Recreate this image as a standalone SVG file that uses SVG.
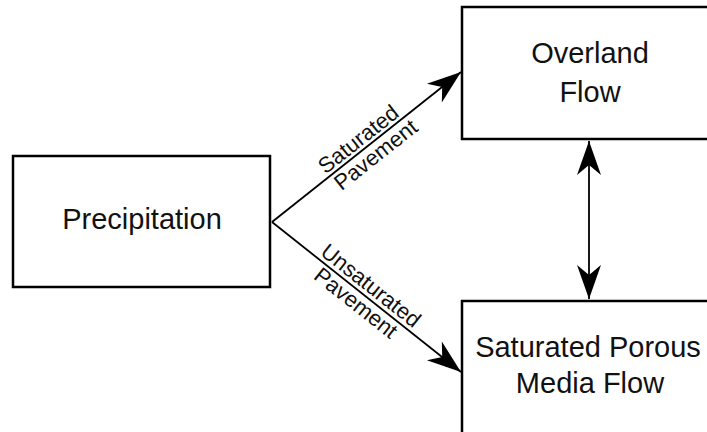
<svg xmlns="http://www.w3.org/2000/svg" width="707" height="432" viewBox="0 0 707 432">
<style>
.box{fill:#fff;stroke:#000;stroke-width:2.5}
.t{font-family:"Liberation Sans",Arial,sans-serif;font-size:29px;fill:#111;text-anchor:middle}
.l{font-family:"Liberation Sans",Arial,sans-serif;font-size:22px;fill:#111;text-anchor:middle}
.c{fill:none;stroke:#000;stroke-width:1.8}
</style>
<defs>
<marker id="ah" markerUnits="userSpaceOnUse" markerWidth="38" markerHeight="28" viewBox="-36 -14 38 28" refX="0" refY="0" orient="auto-start-reverse">
<path d="M0,0 L-34,-12 L-24,0 L-34,12 Z" fill="#000"/>
</marker>
</defs>
<rect width="707" height="432" fill="#fff"/>
<g id="precipitation">
<rect class="box" x="13" y="156" width="257" height="131"/>
<text class="t" x="142" y="229">Precipitation</text>
</g>
<g id="overland">
<rect class="box" x="462" y="7" width="260" height="132"/>
<text class="t" x="590" y="63">Overland</text>
<text class="t" x="590" y="102">Flow</text>
</g>
<g id="porous">
<rect class="box" x="462" y="301" width="260" height="140"/>
<text class="t" x="588" y="357">Saturated Porous</text>
<text class="t" x="590" y="393">Media Flow</text>
</g>
<g id="connectors">
<line class="c" x1="272" y1="222" x2="461" y2="72" marker-end="url(#ah)"/>
<line class="c" x1="272" y1="222" x2="461" y2="372" marker-end="url(#ah)"/>
<line class="c" x1="589" y1="141" x2="589" y2="299" marker-start="url(#ah)" marker-end="url(#ah)"/>
<g transform="translate(367,147) rotate(-38.3)">
<text class="l" x="-2" y="-4">Saturated</text>
<text class="l" x="2" y="19">Pavement</text>
</g>
<g transform="translate(367,297) rotate(38.3)">
<text class="l" x="-4" y="-4">Unsaturated</text>
<text class="l" x="-5" y="19">Pavement</text>
</g>
</g>
</svg>
